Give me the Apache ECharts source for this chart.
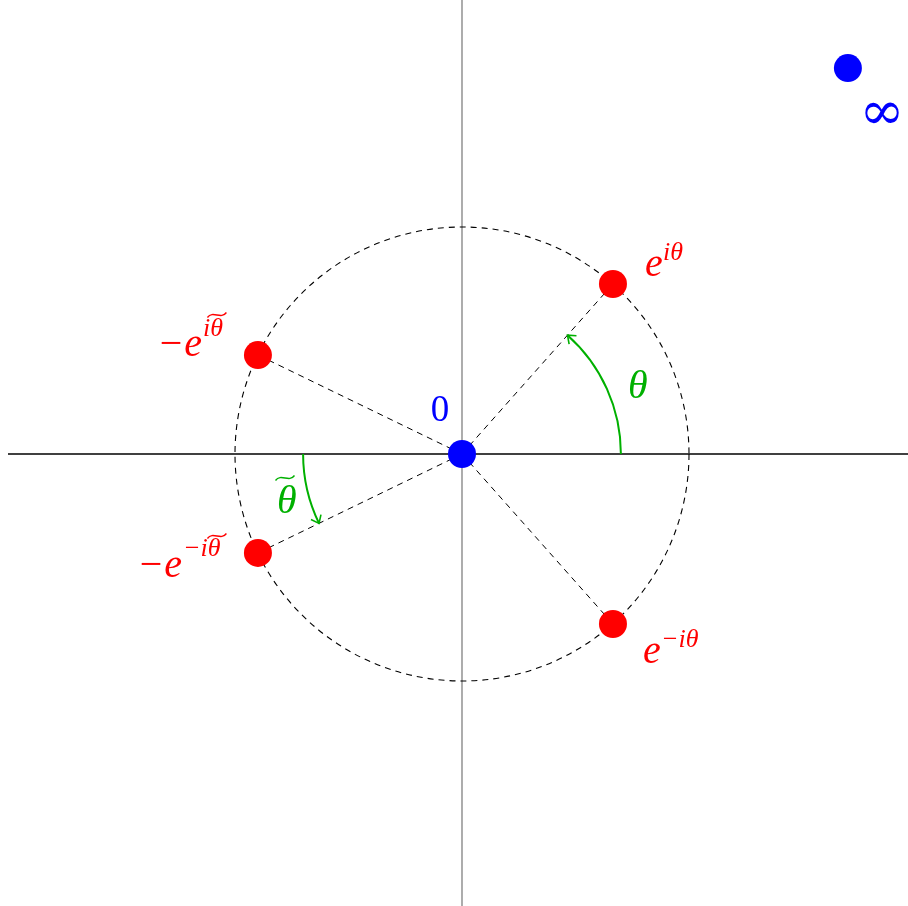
<!DOCTYPE html>
<html><head><meta charset="utf-8">
<script src="https://cdn.jsdelivr.net/npm/echarts@6/dist/echarts.min.js"></script>
<style>html,body{margin:0;padding:0;background:#fff;overflow:hidden;width:908px;height:906px}#main{width:916px;height:908px}</style>
</head><body><div id="main"></div>
<script>
// ---- data (complex-plane units) ----
const axisMin = -2, axisMax = 2;
const unitCircleRadius = [1];
const originPoint = [[0, 0]];
const infinityPoint = [[1.7, 1.7]];
const rootPoints = [[0.665, 0.749], [0.665, -0.749], [-0.899, 0.436], [-0.899, -0.436]];
const rootLabelBase = ['e', 'e', '\u2212e', '\u2212e'];
const rootLabelSup = ['i\u03b8', '\u2212i\u03b8', 'i\u03b8', '\u2212i\u03b8'];
const rootLabelTilde = [false, false, true, true];
const arcRadius = [0.7, 0.7];
const arcStartDeg = [0, 180];
const arcEndDeg = [48.4, 205.9];
const arcLabel = ['\u03b8', '\u03b8'];
const arcLabelTilde = [false, true];
const originLabel = '0';
const infinityLabel = '\u221e';

// ---- styles / layout ----
const RED = '#ff0000', BLUE = '#0000ff', GREEN = '#00b000';
const FONT = '"Liberation Serif", "DejaVu Serif", serif';
const BASE_FS = 40, SUP_FS = 26;
const MID = 0.32; // baseline -> middle shift factor
// pixel offsets of label pieces relative to the dot they name
const rootLayout = [
  {base: [32, -6, 'left'], sup: [50, -22], tilde: null},
  {base: [30, 41, 'left'], sup: [48, 24], tilde: null},
  {base: [-56, 3, 'right'], sup: [-55, -18], tilde: [-41, -40]},
  {base: [-76, 26, 'right'], sup: [-75, 5], tilde: [-41, -17]}
];
const arcLayout = [
  {pos: [166, -54], tilde: null},
  {pos: [-185, 61], tilde: [-177, 24]}
];

function txt(x, y, text, fs, color, align, italic) {
  return {type: 'text', x: x, y: y - MID * fs, style: {
    text: text, font: (italic === false ? '' : 'italic ') + fs + 'px ' + FONT,
    fill: color, align: align || 'left', verticalAlign: 'middle'}};
}
function tildeShape(cx, cy, color) {
  return {type: 'bezierCurve', shape: {x1: cx - 9.5, y1: cy + 2.5, cpx1: cx - 4, cpy1: cy - 5,
    cpx2: cx + 4, cpy2: cy + 5, x2: cx + 9.5, y2: cy - 2.5},
    style: {stroke: color, lineWidth: 1.4, fill: 'none'}};
}

const chart = echarts.init(document.getElementById('main'), null, {renderer: 'canvas'});

const spokeSeries = rootPoints.map(p => ({
  type: 'line', data: [originPoint[0], p], symbol: 'none', silent: true, z: 2,
  lineStyle: {color: '#000', width: 1, type: [6, 5]}
}));

chart.setOption({
  animation: false,
  backgroundColor: '#fff',
  grid: {left: 8, top: 0, right: 0, bottom: 0, containLabel: false},
  xAxis: {type: 'value', min: axisMin, max: axisMax, show: false},
  yAxis: {type: 'value', min: axisMin, max: axisMax, show: false},
  series: [
    {type: 'line', data: [[axisMin, 0], [axisMax, 0]], symbol: 'none', z: 1,
      lineStyle: {color: '#000', width: 1.3}},
    {type: 'line', data: [[0, axisMin], [0, axisMax]], symbol: 'none', z: 1,
      lineStyle: {color: '#808080', width: 1.3}},
    {type: 'custom', z: 2, data: unitCircleRadius.map(r => [0, 0, r]),
      renderItem: (params, api) => {
        const c = api.coord([0, 0]);
        const r = api.size([api.value(2), 0])[0];
        return {type: 'circle', shape: {cx: c[0], cy: c[1], r: r},
          style: {stroke: '#000', lineWidth: 1.1, lineDash: [6, 5], fill: 'none'}};
      }},
    ...spokeSeries,
    {type: 'custom', z: 3, data: arcRadius.map((r, i) => [0, 0, r]),
      renderItem: (params, api) => {
        const i = params.dataIndex;
        const c = api.coord([0, 0]);
        const r = api.size([api.value(2), 0])[0];
        const a0 = arcStartDeg[i] * Math.PI / 180, a1 = arcEndDeg[i] * Math.PI / 180;
        const ex = c[0] + r * Math.cos(a1), ey = c[1] - r * Math.sin(a1);
        const dx = -Math.sin(a1), dy = -Math.cos(a1);
        const L = 9, phi = 38 * Math.PI / 180;
        const base = Math.atan2(dy, dx) + Math.PI;
        const w = s => [ex + L * Math.cos(base + s * phi), ey + L * Math.sin(base + s * phi)];
        const lay = arcLayout[i];
        const kids = [
          {type: 'arc', shape: {cx: c[0], cy: c[1], r: r, startAngle: -a0, endAngle: -a1, clockwise: false},
            style: {stroke: GREEN, lineWidth: 2, fill: 'none'}},
          {type: 'polyline', shape: {points: [w(1), [ex, ey], w(-1)]},
            style: {stroke: GREEN, lineWidth: 1.6, fill: 'none'}},
          txt(c[0] + lay.pos[0], c[1] + lay.pos[1], arcLabel[i], BASE_FS, GREEN, 'left')
        ];
        if (arcLabelTilde[i] && lay.tilde) kids.push(tildeShape(c[0] + lay.tilde[0], c[1] + lay.tilde[1], GREEN));
        return {type: 'group', children: kids};
      }},
    {type: 'scatter', z: 5, data: rootPoints, symbol: 'circle', symbolSize: 28,
      itemStyle: {color: RED, opacity: 1}},
    {type: 'scatter', z: 5, data: originPoint.concat(infinityPoint), symbol: 'circle', symbolSize: 28,
      itemStyle: {color: BLUE, opacity: 1}},
    {type: 'custom', z: 6, data: rootPoints,
      renderItem: (params, api) => {
        const i = params.dataIndex;
        const p = api.coord([api.value(0), api.value(1)]);
        const lay = rootLayout[i];
        const kids = [
          txt(p[0] + lay.base[0], p[1] + lay.base[1], rootLabelBase[i], BASE_FS, RED, lay.base[2]),
          txt(p[0] + lay.sup[0], p[1] + lay.sup[1], rootLabelSup[i], SUP_FS, RED, 'left')
        ];
        if (rootLabelTilde[i] && lay.tilde) kids.push(tildeShape(p[0] + lay.tilde[0], p[1] + lay.tilde[1], RED));
        return {type: 'group', children: kids};
      }},
    {type: 'custom', z: 6, data: originPoint,
      renderItem: (params, api) => {
        const p = api.coord([api.value(0), api.value(1)]);
        return txt(p[0] - 22, p[1] - 31, originLabel, 37, BLUE, 'center', false);
      }},
    {type: 'custom', z: 6, data: infinityPoint,
      renderItem: (params, api) => {
        const p = api.coord([api.value(0), api.value(1)]);
        return {type: 'text', x: p[0] + 34, y: p[1] + 47,
          style: {text: infinityLabel, font: '54px "DejaVu Serif", serif', fill: BLUE, align: 'center', verticalAlign: 'middle'}};
      }}
  ]
});
</script></body></html>
